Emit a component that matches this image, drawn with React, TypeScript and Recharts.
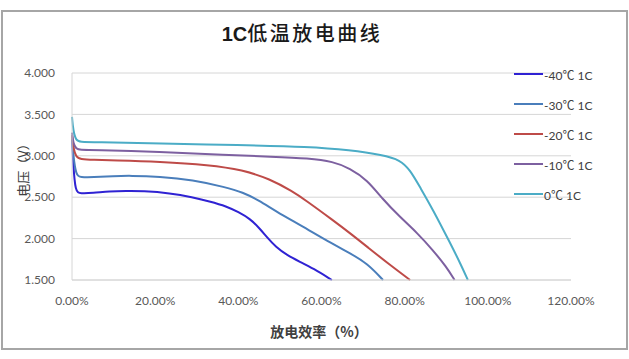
import React from 'react';
import { LineChart, Line, XAxis, YAxis, CartesianGrid } from 'recharts';

// Series names and colours
const seriesNames = ['-40℃ 1C', '-30℃ 1C', '-20℃ 1C', '-10℃ 1C', '0℃ 1C'];
const seriesColors = ['#2F22D3', '#4A7EBB', '#BE4B48', '#7D60A0', '#4BACC6'];

// Discharge efficiency (%) and voltage (V) per series
const x40 = [0, 0.3, 0.8, 2, 5, 9, 13, 17, 23.6, 29, 33, 37.2, 40, 42.8, 45, 47, 49, 51.7, 54.8, 58, 62.5];
const v40 = [3.2, 2.9, 2.56, 2.545, 2.55, 2.57, 2.575, 2.575, 2.55, 2.5, 2.45, 2.39, 2.32, 2.24, 2.13, 2.01, 1.9, 1.8, 1.72, 1.64, 1.5];

const x30 = [0, 0.3, 1, 2, 5, 10, 14, 21, 29, 37, 41, 45, 49, 55, 62.8, 67, 71, 74.8];
const v30 = [3.25, 3.0, 2.76, 2.74, 2.74, 2.755, 2.76, 2.75, 2.71, 2.62, 2.56, 2.46, 2.33, 2.16, 1.93, 1.82, 1.7, 1.5];

const x20 = [0, 0.3, 1, 2, 5, 10, 21, 33, 41, 47.6, 53, 56, 62.8, 67, 71, 76.5, 81.3];
const v20 = [3.25, 3.1, 2.98, 2.96, 2.95, 2.945, 2.93, 2.89, 2.83, 2.72, 2.57, 2.47, 2.22, 2.06, 1.9, 1.68, 1.5];

const x10 = [0, 0.3, 1, 2, 5, 21, 37, 48, 57, 62.8, 66.8, 71, 74.8, 78.9, 83, 86.8, 90, 92];
const v10 = [3.28, 3.15, 3.08, 3.07, 3.07, 3.05, 3.01, 2.99, 2.97, 2.93, 2.85, 2.71, 2.47, 2.26, 2.07, 1.86, 1.66, 1.5];

const x0 = [0, 0.3, 1, 2, 5, 21, 40, 57, 66.8, 74.8, 78.9, 81.3, 83.7, 86.8, 90.9, 93.3, 95.2];
const v0 = [3.47, 3.3, 3.18, 3.17, 3.165, 3.15, 3.13, 3.11, 3.07, 3.01, 2.95, 2.83, 2.62, 2.35, 1.95, 1.71, 1.5];

const xTicks = [0, 20, 40, 60, 80, 100, 120];
const yTicks = [1.5, 2.0, 2.5, 3.0, 3.5, 4.0];

const toPoints = (xs: number[], vs: number[]) => xs.map((x, i) => ({ x, v: vs[i] }));
const seriesData = [toPoints(x40, v40), toPoints(x30, v30), toPoints(x20, v20), toPoints(x10, v10), toPoints(x0, v0)];

const tickFont = { fontFamily: 'Lato, "Liberation Sans", sans-serif', fontSize: 12, fill: '#595959' };

export default function App() {
  return (
    <div style={{ position: 'absolute', left: 0, top: 0, width: 629, height: 359, background: '#fff', overflow: 'hidden' }}>
      <div style={{ position: 'absolute', left: 1, top: 10, width: 627, height: 340, border: '2px solid #a6a6a6', boxSizing: 'border-box' }} />
      <div style={{ position: 'absolute', left: 0, top: 0 }}>
        <LineChart width={629} height={359} margin={{ top: 73, right: 58, bottom: 49, left: 12 }}>
          <CartesianGrid vertical={false} stroke="#d6d6d6" strokeWidth={1} />
          <XAxis
            dataKey="x"
            type="number"
            domain={[0, 120]}
            ticks={xTicks}
            allowDuplicatedCategory={false}
            tickFormatter={(v: number) => `${v.toFixed(2)}%`}
            tick={tickFont}
            tickLine={false}
            tickMargin={10}
            axisLine={{ stroke: '#d6d6d6' }}
            height={30}
          />
          <YAxis
            dataKey="v"
            type="number"
            domain={[1.5, 4.0]}
            ticks={yTicks}
            tickFormatter={(v: number) => v.toFixed(3)}
            tick={tickFont}
            tickLine={false}
            tickMargin={11}
            axisLine={{ stroke: '#d6d6d6' }}
            width={60}
          />
          {seriesData.map((d, i) => (
            <Line
              key={seriesNames[i]}
              data={d}
              dataKey="v"
              name={seriesNames[i]}
              type="basis"
              stroke={seriesColors[i]}
              strokeWidth={2}
              dot={false}
              isAnimationActive={false}
            />
          ))}
        </LineChart>
      </div>
      {/* Title */}
      <div style={{ position: 'absolute', left: 0, width: 604, top: 18, textAlign: 'center', fontSize: 20, color: '#1a1a1a', whiteSpace: 'nowrap', letterSpacing: 2.5 }}>
        <span style={{ fontFamily: '"Liberation Sans", Arial, sans-serif', fontWeight: 'bold', letterSpacing: 0 }}>1C</span>
        <span style={{ fontFamily: '"Noto Sans CJK SC", sans-serif', fontWeight: 500 }}>低温放电曲线</span>
      </div>
      {/* Y axis title */}
      <div style={{ position: 'absolute', left: 22, top: 167, transform: 'translate(-50%, -50%) rotate(-90deg)', fontFamily: '"Noto Sans CJK SC", sans-serif', fontSize: 13, color: '#404040', whiteSpace: 'nowrap' }}>
        电压（V）
      </div>
      {/* X axis title */}
      <div style={{ position: 'absolute', left: 319, top: 331, transform: 'translate(-50%, -50%)', fontFamily: '"Noto Sans CJK SC", sans-serif', fontSize: 14, fontWeight: 600, color: '#404040', whiteSpace: 'nowrap' }}>
        放电效率（%）
      </div>
      {/* Legend */}
      {seriesNames.map((n, i) => (
        <div key={n} style={{ position: 'absolute', left: 514, top: 74 + i * 30 - 9, height: 18, display: 'flex', alignItems: 'center', whiteSpace: 'nowrap' }}>
          <div style={{ width: 29, height: 2, background: seriesColors[i] }} />
          <span style={{ marginLeft: 1, fontFamily: 'Lato, "Noto Sans CJK SC", sans-serif', fontSize: 12, color: '#404040' }}>{n}</span>
        </div>
      ))}
    </div>
  );
}
